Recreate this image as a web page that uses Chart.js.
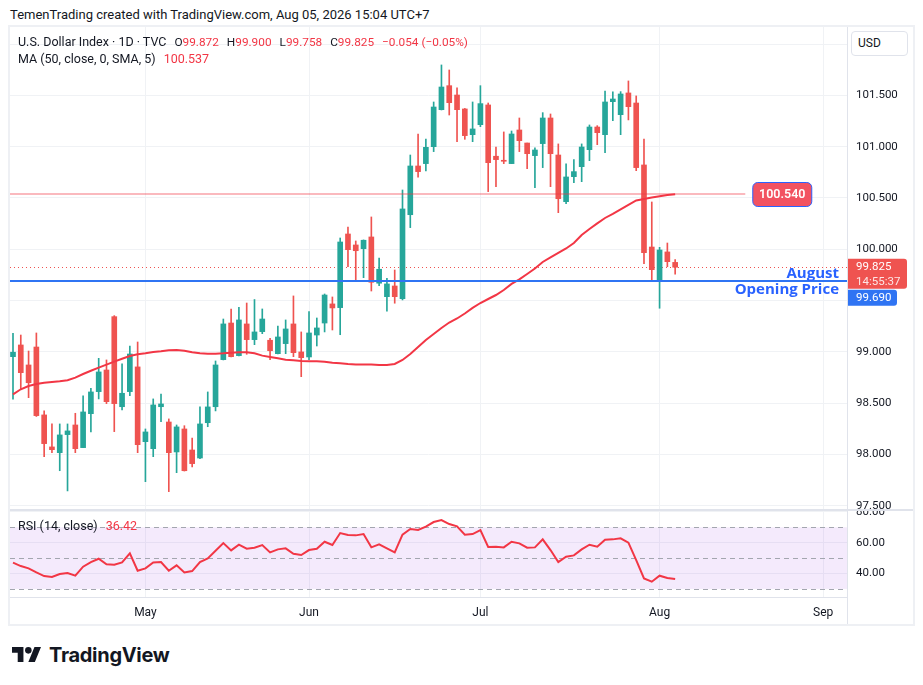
<!DOCTYPE html>
<html>
<head>
<meta charset="utf-8">
<script src="https://cdn.jsdelivr.net/npm/chart.js@4.4.1/dist/chart.umd.min.js"></script>
<style>
  body { margin: 0; background: #fff; font-family: Roboto, "Noto Sans", sans-serif; color: #131722; }
  #page { position: relative; width: 923px; height: 685px; overflow: hidden; }
  .abs { position: absolute; }
  .txt { font-size: 12.5px; line-height: 16px; white-space: nowrap; }
  .g { margin-left: 8px; }
  .v { font-size: 11.8px; }
  .r { color: #f23645; }
  #frame { left: 8px; top: 25px; width: 907px; height: 601px; box-sizing: border-box; border: 2px solid #eef0f4; }
  .sep { background: #e0e3eb; }
  #usd { left: 851px; top: 31px; width: 57px; height: 25px; box-sizing: border-box; border: 1px solid #e0e3eb; border-radius: 4px; font-size: 12px; line-height: 23px; padding-left: 6px; background: #fff; }
  #brand { left: 49px; top: 643px; font-family: Inter, Roboto, sans-serif; font-weight: 700; font-size: 20px; line-height: 24px; letter-spacing: -0.3px; }
</style>
</head>
<body>
<div id="page">
  <div class="abs txt" style="left:10px;top:7px;font-size:13px;">TemenTrading created with TradingView.com, Aug 05, 2026 15:04 UTC+7</div>
  <div id="frame" class="abs"></div>
  <canvas id="priceChart" class="abs" width="903" height="483" style="left:10px;top:27px;"></canvas>
  <canvas id="rsiChart" class="abs" width="903" height="114" style="left:10px;top:510px;"></canvas>
  <div class="abs sep" style="left:847px;top:27px;width:1px;height:597px;"></div>
  <div class="abs sep" style="left:10px;top:509px;width:903px;height:2px;"></div>
  <div class="abs sep" style="left:10px;top:597px;width:837px;height:1px;"></div>
  <div id="usd" class="abs">USD</div>
  <div id="legend1" class="abs txt" style="left:18px;top:34px;"></div>
  <div id="legend2" class="abs txt" style="left:18px;top:51px;"></div>
  <div id="legend3" class="abs txt" style="left:18px;top:518px;"></div>
  <svg class="abs" style="left:12px;top:647px;" width="29" height="15" viewBox="0 4 35.5 18" preserveAspectRatio="none">
    <path d="M14 22H7V11H0V4h14v18zM28 22h-8l7.5-18h8L28 22z" fill="#131722"/>
    <circle cx="20" cy="8" r="4" fill="#131722"/>
  </svg>
  <div id="brand" class="abs">TradingView</div>
</div>
<script>
// daily candles, 8 Apr .. 5 Aug
const opens = [98.953, 99.067, 98.872, 99.047, 98.385, 98.073, 98.017, 98.193, 98.287, 98.066,
  98.397, 98.612, 98.823, 99.343, 98.465, 98.612, 98.853, 98.124, 98.056, 98.465,
  98.316, 98.024, 98.248, 98.043, 97.965, 98.309, 98.465, 98.924, 99.281, 98.963,
  99.272, 99.119, 99.197, 99.113, 98.982, 99.080, 99.272, 98.999, 98.950, 99.164,
  99.281, 99.467, 99.431, 100.149, 100.042, 100.006, 100.120, 99.669, 99.538, 99.642,
  99.518, 100.337, 100.812, 100.835, 101.000, 101.361, 101.595, 101.504, 101.368, 101.117,
  101.215, 101.407, 100.907, 100.864, 100.835, 101.163, 101.036, 100.913, 101.030, 101.280,
  100.919, 100.464, 100.708, 100.805, 100.971, 101.192, 101.117, 101.439, 101.312, 101.524,
  101.426, 100.822, 100.022, 99.688, 99.974, 99.872];
const highs = [99.181, 99.164, 99.008, 99.184, 98.424, 98.297, 98.297, 98.297, 98.401, 98.570,
  98.645, 98.937, 98.921, 99.353, 98.882, 99.057, 99.096, 98.248, 98.541, 98.589,
  98.346, 98.287, 98.280, 98.160, 98.463, 98.609, 98.911, 99.320, 99.418, 99.435,
  99.476, 99.510, 99.418, 99.132, 99.252, 99.311, 99.545, 99.194, 99.392, 99.330,
  99.564, 99.535, 100.110, 100.217, 100.081, 100.091, 100.315, 99.915, 99.717, 99.798,
  100.578, 100.919, 101.124, 101.075, 101.436, 101.797, 101.748, 101.573, 101.373, 101.436,
  101.595, 101.426, 100.997, 101.144, 101.153, 101.280, 101.036, 100.988, 101.332, 101.319,
  101.027, 100.832, 100.874, 101.027, 101.212, 101.205, 101.543, 101.534, 101.537, 101.641,
  101.495, 101.075, 100.461, 100.019, 100.061, 99.900];
const lows = [98.538, 98.635, 98.553, 98.370, 97.978, 98.017, 97.841, 97.644, 98.017, 98.066,
  98.219, 98.541, 98.495, 98.222, 98.433, 98.573, 98.017, 97.734, 97.978, 98.319,
  97.637, 97.822, 97.838, 97.878, 97.958, 98.270, 98.424, 98.921, 98.950, 98.960,
  98.976, 99.070, 99.177, 98.924, 98.979, 98.982, 98.953, 98.758, 98.924, 99.057,
  99.194, 99.213, 99.167, 99.830, 99.688, 99.723, 99.593, 99.645, 99.396, 99.474,
  99.506, 100.211, 100.702, 100.763, 100.952, 101.358, 101.309, 101.049, 101.072, 101.049,
  101.195, 100.562, 100.610, 100.835, 100.835, 100.952, 100.786, 100.601, 100.796, 100.610,
  100.357, 100.445, 100.649, 100.659, 100.864, 101.020, 100.942, 101.254, 101.117, 101.261,
  100.766, 99.860, 99.694, 99.425, 99.830, 99.758];
const closes = [98.996, 98.797, 98.699, 98.378, 98.105, 98.046, 98.190, 98.229, 98.056, 98.414,
  98.609, 98.804, 98.514, 98.495, 98.596, 98.979, 98.095, 98.219, 98.482, 98.492,
  98.017, 98.268, 97.841, 97.910, 98.297, 98.463, 98.872, 99.272, 98.953, 99.311,
  99.119, 99.194, 99.320, 99.011, 99.145, 99.223, 98.992, 98.943, 99.184, 99.233,
  99.554, 99.428, 100.071, 99.996, 99.986, 100.088, 99.678, 99.805, 99.662, 99.538,
  100.393, 100.812, 100.757, 100.994, 101.387, 101.582, 101.429, 101.361, 101.108, 101.173,
  101.420, 100.844, 100.874, 100.858, 101.124, 101.059, 100.932, 100.968, 101.280, 100.932,
  100.493, 100.705, 100.757, 100.997, 101.192, 101.137, 101.436, 101.465, 101.514, 101.390,
  100.796, 99.967, 99.801, 99.993, 99.879, 99.825];
// MA (50, close) as plotted
const maValues = [98.586, 98.635, 98.667, 98.687, 98.699, 98.706, 98.713, 98.723, 98.748, 98.784,
  98.816, 98.846, 98.875, 98.904, 98.933, 98.960, 98.976, 98.986, 98.999, 99.006,
  99.015, 99.018, 99.011, 98.996, 98.986, 98.982, 98.982, 98.986, 98.992, 98.996,
  98.996, 98.986, 98.963, 98.950, 98.937, 98.924, 98.918, 98.911, 98.908, 98.908,
  98.904, 98.894, 98.889, 98.882, 98.877, 98.877, 98.877, 98.872, 98.872, 98.882,
  98.921, 98.979, 99.047, 99.116, 99.174, 99.233, 99.286, 99.325, 99.374, 99.428,
  99.476, 99.515, 99.554, 99.603, 99.662, 99.706, 99.759, 99.813, 99.876, 99.920,
  99.964, 100.008, 100.061, 100.139, 100.198, 100.252, 100.305, 100.344, 100.388, 100.432,
  100.476, 100.490, 100.505, 100.517, 100.529, 100.537];
// RSI (14, close)
const rsiValues = [47.01, 44.84, 43.33, 40.73, 38.35, 37.70, 39.65, 40.30, 38.57, 44.41,
  47.44, 49.60, 45.93, 45.71, 47.22, 53.07, 41.81, 43.33, 47.22, 47.44,
  41.81, 45.28, 40.73, 41.60, 47.44, 49.82, 54.80, 59.78, 55.02, 58.70,
  56.10, 56.75, 58.48, 53.72, 55.67, 56.31, 52.85, 51.99, 55.23, 56.10,
  60.64, 58.48, 66.27, 64.97, 64.76, 65.62, 56.96, 58.91, 56.31, 53.72,
  65.19, 68.87, 68.22, 70.38, 73.41, 74.71, 72.12, 70.60, 65.19, 65.62,
  68.22, 57.18, 57.40, 56.96, 60.64, 59.56, 56.75, 56.96, 62.16, 55.23,
  47.44, 50.90, 51.77, 55.67, 58.70, 57.40, 61.94, 62.16, 62.81, 59.99,
  48.74, 36.83, 34.67, 38.57, 37.05, 36.42];

const monthTickIdx = [17, 38, 60, 83, 104];
const monthNames = ['May', 'Jun', 'Jul', 'Aug', 'Sep'];
const priceTicks = [97.5, 98, 98.5, 99, 99.5, 100, 100.5, 101, 101.5, 102];
const hiddenPriceTicks = [99.5, 102];
const rsiTicks = [40, 60, 80];
const rsiBand = [30, 50, 70];

const resistanceLevel = 100.540;
const augustOpen = 99.690;
const countdown = '14:55:37';

const FONT = 'Roboto, "Noto Sans", sans-serif';
const upColor = '#26a69a';
const downColor = '#ef5350';
const red = '#f23645';
const blue = '#2962ff';
const grid = '#f0f2f5';
const ink = '#131722';

Chart.defaults.font.family = FONT;
Chart.defaults.color = ink;

const idx = closes.map((_, i) => i);
const candleColors = closes.map((c, i) => c >= opens[i] ? upColor : downColor);
const last = closes.length - 1;

// legends
const chg = closes[last] - closes[last - 1];
const fmt = v => (v < 0 ? '\u2212' : '') + Math.abs(v).toFixed(3);
document.getElementById('legend1').innerHTML =
  'U.S. Dollar Index · 1D · TVC' +
  '<span class="g v">O<span class="r">' + opens[last].toFixed(3) + '</span></span>' +
  '<span class="g v">H<span class="r">' + highs[last].toFixed(3) + '</span></span>' +
  '<span class="g v">L<span class="r">' + lows[last].toFixed(3) + '</span></span>' +
  '<span class="g v">C<span class="r">' + closes[last].toFixed(3) + '</span></span>' +
  '<span class="g v r">' + fmt(chg) + ' (' + (chg < 0 ? '\u2212' : '') + Math.abs(chg / closes[last - 1] * 100).toFixed(2) + '%)</span>';
document.getElementById('legend2').innerHTML =
  'MA (50, close, 0, SMA, 5)<span class="g r">' + maValues[last].toFixed(3) + '</span>';
document.getElementById('legend3').innerHTML =
  'RSI (14, close)<span class="g r">' + rsiValues[last].toFixed(2) + '</span>';

function hline(ctx, x1, x2, y) {
  ctx.beginPath();
  ctx.moveTo(x1, y);
  ctx.lineTo(x2, y);
  ctx.stroke();
}

function roundRect(ctx, x, y, w, h, r) {
  ctx.beginPath();
  ctx.roundRect(x, y, w, h, r);
}

const xScale = (showLabels) => ({
  type: 'linear',
  min: -0.385,
  max: 107.06,
  offset: false,
  grid: { color: grid, offset: false, drawTicks: false },
  border: { display: false },
  ticks: {
    display: showLabels,
    autoSkip: false,
    maxRotation: 0,
    padding: 9,
    color: ink,
    font: { size: 12 },
    callback: v => monthNames[monthTickIdx.indexOf(v)] || ''
  },
  afterBuildTicks: s => { s.ticks = monthTickIdx.map(v => ({ value: v })); },
  afterFit: s => { s.height = showLabels ? 27 : 0; s.paddingLeft = 0; s.paddingRight = 0; }
});

// level lines, price tags and notes
const levels = {
  id: 'levels',
  beforeDatasetsDraw(chart) {
    const { ctx, chartArea: a, scales: { y } } = chart;
    ctx.save();
    ctx.strokeStyle = downColor;
    ctx.lineWidth = 1;
    ctx.setLineDash([1, 3]);
    hline(ctx, a.left, a.right, Math.round(y.getPixelForValue(closes[last])) + 0.5);
    ctx.restore();
  },
  afterDatasetsDraw(chart) {
    const { ctx, chartArea: a, scales: { x, y } } = chart;
    ctx.save();
    const yr = Math.round(y.getPixelForValue(resistanceLevel));
    const yb = Math.round(y.getPixelForValue(augustOpen));
    const yc = y.getPixelForValue(closes[last]);

    ctx.lineWidth = 2;
    ctx.strokeStyle = 'rgba(242,54,69,0.35)';
    const pillLeft = x.getPixelForValue(94.9);
    hline(ctx, a.left, pillLeft - 7, yr);

    ctx.strokeStyle = '#2f74f3';
    hline(ctx, a.left, a.right, yb);

    // pill label
    roundRect(ctx, pillLeft + 0.5, yr - 11.5, 59, 24, 5);
    ctx.fillStyle = '#f25261';
    ctx.fill();
    ctx.lineWidth = 1;
    ctx.strokeStyle = blue;
    ctx.stroke();
    ctx.fillStyle = '#fff';
    ctx.font = '600 12.5px ' + FONT;
    ctx.textAlign = 'center';
    ctx.textBaseline = 'middle';
    ctx.fillText(resistanceLevel.toFixed(3), pillLeft + 30, yr + 0.5);

    // note on the opening price line
    ctx.fillStyle = blue;
    ctx.font = 'bold 15px "Open Sans", ' + FONT;
    ctx.textAlign = 'right';
    ctx.textBaseline = 'alphabetic';
    ctx.fillText('August', a.right - 8, yb - 3);
    ctx.fillText('Opening Price', a.right - 8, yb + 13);

    // axis tags
    const tx = a.right + 1;
    const redTop = yc - 8.5;
    roundRect(ctx, tx, redTop, 59, 30, [0, 3, 3, 0]);
    ctx.fillStyle = downColor;
    ctx.fill();
    ctx.font = '11.5px ' + FONT;
    ctx.textAlign = 'left';
    ctx.textBaseline = 'middle';
    ctx.fillStyle = '#fff';
    ctx.fillText(closes[last].toFixed(3), tx + 8, yc);
    ctx.fillStyle = 'rgba(255,255,255,0.85)';
    ctx.fillText(countdown, tx + 8, yc + 14.5);

    const blueTop = Math.max(yb - 8, redTop + 31);
    roundRect(ctx, tx, blueTop, 49, 16, [0, 3, 3, 0]);
    ctx.fillStyle = '#2f74f3';
    ctx.fill();
    ctx.fillStyle = '#fff';
    ctx.fillText(augustOpen.toFixed(3), tx + 8, blueTop + 8.5);
    ctx.restore();
  }
};

new Chart(document.getElementById('priceChart'), {
  type: 'bar',
  data: {
    datasets: [
      {
        type: 'line',
        label: 'MA (50)',
        data: idx.map(i => ({ x: i, y: maValues[i] })),
        borderColor: red,
        borderWidth: 2,
        pointRadius: 0,
        tension: 0,
        order: 0
      },
      {
        label: 'Body',
        data: idx.map(i => ({ x: i, y: [opens[i], closes[i]] })),
        backgroundColor: candleColors,
        barThickness: 5,
        minBarLength: 1,
        grouped: false,
        order: 1
      },
      {
        label: 'Wick',
        data: idx.map(i => ({ x: i, y: [lows[i], highs[i]] })),
        backgroundColor: candleColors,
        barThickness: 1,
        grouped: false,
        order: 2
      }
    ]
  },
  options: {
    responsive: false,
    animation: false,
    devicePixelRatio: 1,
    layout: { padding: 0 },
    plugins: { legend: { display: false }, tooltip: { enabled: false } },
    scales: {
      x: xScale(false),
      y: {
        position: 'right',
        min: 97.458,
        max: 102.167,
        grid: { color: grid, drawTicks: false },
        border: { display: false },
        ticks: {
          padding: 9,
          color: ink,
          font: { size: 11.5 },
          callback: v => hiddenPriceTicks.includes(v) ? '' : v.toFixed(3)
        },
        afterBuildTicks: s => { s.ticks = priceTicks.map(v => ({ value: v })); },
        afterFit: s => { s.width = 66; s.paddingTop = 0; s.paddingBottom = 0; }
      }
    }
  },
  plugins: [levels]
});

// RSI band and dashed levels
const rsiBackground = {
  id: 'rsiBackground',
  beforeDatasetsDraw(chart) {
    const { ctx, chartArea: a, scales: { y } } = chart;
    ctx.save();
    const top = y.getPixelForValue(rsiBand[2]);
    const bottom = y.getPixelForValue(rsiBand[0]);
    ctx.fillStyle = 'rgba(155,60,230,0.11)';
    ctx.fillRect(a.left, top, a.right - a.left, bottom - top);
    ctx.strokeStyle = '#a3a6af';
    ctx.lineWidth = 1;
    ctx.setLineDash([5, 4]);
    rsiBand.forEach(v => hline(ctx, a.left, a.right, Math.round(y.getPixelForValue(v)) + 0.5));
    ctx.restore();
  }
};

new Chart(document.getElementById('rsiChart'), {
  type: 'line',
  data: {
    datasets: [{
      label: 'RSI (14)',
      data: idx.map(i => ({ x: i, y: rsiValues[i] })),
      borderColor: red,
      borderWidth: 2,
      pointRadius: 0,
      tension: 0
    }]
  },
  options: {
    responsive: false,
    animation: false,
    devicePixelRatio: 1,
    layout: { padding: 0 },
    plugins: { legend: { display: false }, tooltip: { enabled: false } },
    scales: {
      x: xScale(true),
      y: {
        position: 'right',
        min: 24.74,
        max: 81.23,
        grid: { color: grid, drawTicks: false },
        border: { display: false },
        ticks: {
          padding: 9,
          color: ink,
          font: { size: 11.5 },
          callback: v => v.toFixed(2)
        },
        afterBuildTicks: s => { s.ticks = rsiTicks.map(v => ({ value: v })); },
        afterFit: s => { s.width = 66; s.paddingTop = 0; s.paddingBottom = 0; }
      }
    }
  },
  plugins: [rsiBackground]
});
</script>
</body>
</html>
